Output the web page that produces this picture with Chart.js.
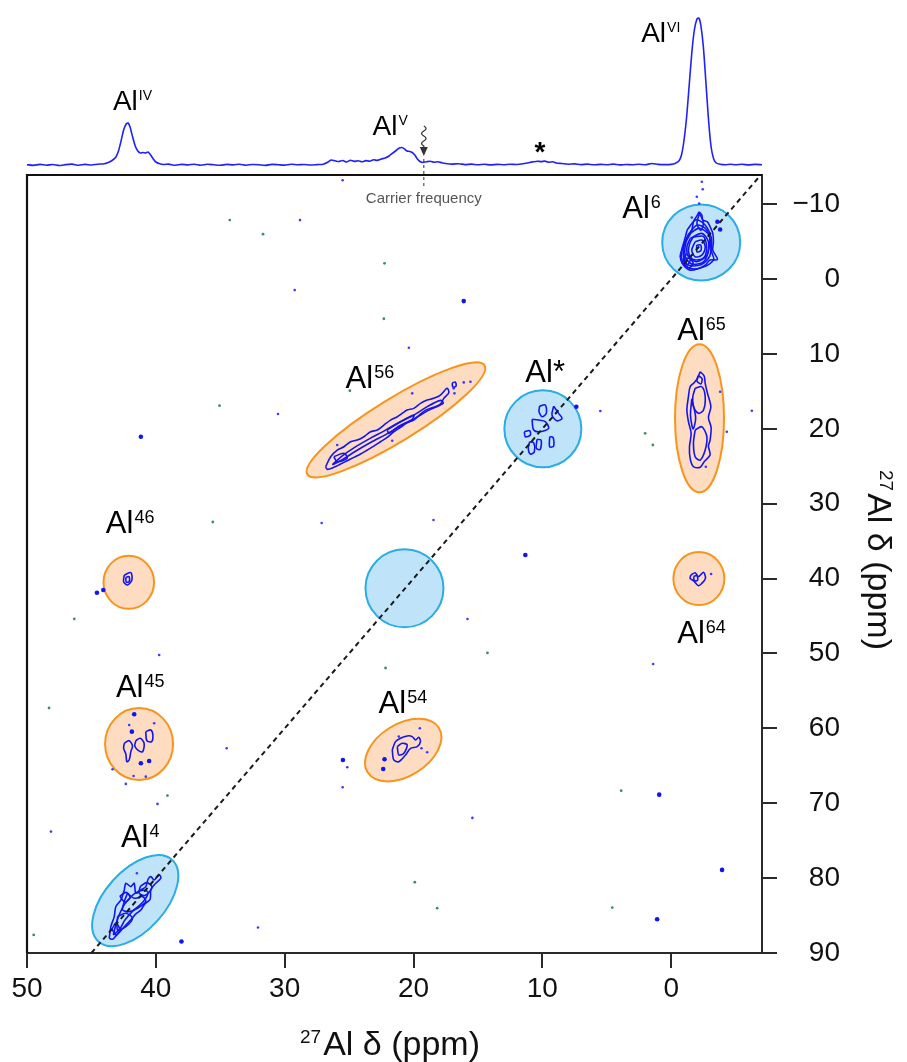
<!DOCTYPE html>
<html><head><meta charset="utf-8">
<script src="https://cdn.jsdelivr.net/npm/chart.js@4.4.1/dist/chart.umd.min.js"></script>
<style>
html,body{margin:0;padding:0;background:#fff;}
#wrap{position:relative;width:907px;height:1062px;overflow:hidden;}
#main{position:absolute;left:0;top:0;width:907px;height:1062px;}
#spec{position:absolute;left:0;top:0;width:907px;height:175px;}
</style></head><body>
<div id="wrap">
<canvas id="main" width="907" height="1062"></canvas>
<canvas id="spec" width="907" height="175"></canvas>
</div>
<script>
const FONT = "'Liberation Sans', Arial, Helvetica, sans-serif";

// ---------- axes ----------
const xTickValues = [50, 40, 30, 20, 10, 0];
const yTickValues = [-10, 0, 10, 20, 30, 40, 50, 60, 70, 80, 90];
const xRange = [-7.05, 50];
const yRange = [-13.9, 90];

// ---------- 1D projection (top) ----------
const specPpm = [50.0,49.5,49.0,48.5,48.0,47.5,47.0,46.5,46.0,45.5,45.0,44.5,44.0,43.7,43.4,43.1,42.9,42.7,42.5,42.3,42.15,42.0,41.8,41.6,41.4,41.2,41.0,40.8,40.6,40.4,40.2,40.0,39.7,39.4,39.0,38.5,38.0,37.5,37.0,36.5,36.0,35.5,35.0,34.5,34.0,33.5,33.0,32.5,32.0,31.5,31.0,30.5,30.0,29.5,29.0,28.5,28.0,27.5,27.0,26.7,26.4,26.1,25.8,25.5,25.2,24.9,24.6,24.3,24.0,23.7,23.4,23.1,22.8,22.5,22.2,21.9,21.6,21.3,21.1,20.9,20.7,20.5,20.3,20.1,19.9,19.7,19.5,19.3,19.0,18.7,18.4,18.1,17.8,17.5,17.0,16.5,16.0,15.5,15.0,14.5,14.0,13.5,13.0,12.5,12.0,11.5,11.0,10.7,10.4,10.1,9.8,9.5,9.2,8.9,8.5,8.0,7.5,7.0,6.5,6.0,5.5,5.0,4.5,4.0,3.5,3.0,2.5,2.0,1.5,1.0,0.5,0.0,-0.3,-0.6,-0.8,-1.0,-1.2,-1.4,-1.6,-1.8,-2.0,-2.15,-2.3,-2.5,-2.7,-2.9,-3.1,-3.3,-3.5,-3.8,-4.2,-4.6,-5.0,-5.5,-6.0,-6.5,-7.05];
const specIntensity = [0.3,-0.4,0.6,-0.2,0.5,-0.5,0.4,0.9,-0.3,0.6,0.0,0.8,1.2,2.5,4.5,8,14,24,35,41,42,38,28,19,14,12,12.5,12,13,10,6,3,1.2,0.5,0.9,-0.3,0.6,0.1,0.8,-0.2,0.7,0.2,-0.3,0.6,0.1,0.8,-0.2,0.5,0.2,-0.4,0.6,0.3,-0.1,0.7,0.2,0.5,0.0,0.4,0.8,2.5,5,4.2,3.5,4.5,3,4.8,3.6,4.2,3.2,4.4,3.8,5.2,4.6,6,7,9,12,15,17,17.5,16,14,13.5,12.5,10,6,3.5,2.5,3.2,3.8,2.8,3.3,2.2,1.5,0.9,1.3,0.4,0.9,0.2,0.7,0.1,0.6,0.3,0.8,0.5,1.2,2.5,3.2,3.8,3.4,3.9,2.8,3.2,2,1.5,0.8,1.1,0.4,0.9,0.2,0.6,0.3,0.9,0.1,0.5,0.2,0.8,0.3,1.5,0.6,0.4,0.6,1.5,4,10,25,48,80,112,135,146,147,140,118,82,45,18,6,2,0.8,0.3,0.8,0.2,0.7,0.1,0.6,0.3];

// ---------- diagonal (DQ = 2 x SQ) ----------
const diagonalX = [45, -6.95];
const diagonalY = [90, -13.9];

// ---------- highlighted regions ----------
const regionX = [-2.33, 9.96, 20.7, 41.6, -2.2, -2.15, 21.36, 42.1, 41.3, 20.8];
const regionY = [-4.9, 20.0, 41.3, 83.0, 18.6, 40.0, 18.8, 40.5, 62.1, 62.9];
const regionKind = ['auto','auto','auto','auto','cross','cross','cross','cross','cross','cross'];

// ---------- contours ----------
const al6Contours = [
 [[-2.17,-8.99],[-2.38,-8.55],[-2.46,-7.88],[-2.81,-7.65],[-3.02,-6.99],[-3.23,-6.1],[-3.28,-4.98],[-3.23,-3.87],[-3.59,-2.62],[-3.02,-2.54],[-2.64,-1.87],[-2.12,-1.42],[-1.47,-1.2],[-0.95,-1.87],[-0.7,-2.98],[-0.91,-4.31],[-1.22,-5.43],[-1.6,-6.54],[-1.73,-7.65],[-1.99,-8.41]],
 [[-1.25,-6.6],[-1.9,-7.9],[-2.6,-7.3],[-3.1,-5.6],[-3.15,-3.6],[-3.3,-2.6],[-2.5,-1.6],[-1.5,-1.4],[-0.85,-2.4],[-0.85,-4.0],[-1.05,-5.3]],
 [[-1.35,-6.0],[-2.0,-7.2],[-2.75,-6.6],[-3.05,-5.0],[-3.0,-3.1],[-2.3,-1.9],[-1.3,-1.9],[-0.95,-3.2],[-1.05,-4.8]],
 [[-1.55,-6.2],[-2.2,-6.8],[-2.95,-5.8],[-2.9,-3.8],[-2.5,-2.3],[-1.6,-2.0],[-1.1,-3.0],[-1.15,-4.9]],
 [[-1.47,-5.43],[-2.38,-6.1],[-2.89,-4.98],[-2.77,-3.2],[-1.99,-2.31],[-1.34,-2.98],[-1.22,-4.31]],
 [[-1.7,-5.6],[-2.5,-5.7],[-2.75,-4.2],[-2.5,-2.8],[-1.7,-2.6],[-1.35,-3.6],[-1.45,-4.8]],
 [[-1.86,-4.98],[-2.38,-5.21],[-2.64,-4.31],[-2.38,-3.2],[-1.86,-2.98],[-1.6,-3.87]],
 [[-1.99,-4.54],[-2.3,-4.54],[-2.3,-3.78],[-1.99,-3.65]],
 [[-0.8,-2.2],[-1.3,-2.8],[-1.7,-2.2],[-1.4,-1.5]],
 [[-0.9,-2.6],[-1.2,-3.3],[-1.5,-2.7],[-1.25,-1.9]],
 [[-2.2,-8.8],[-2.5,-7.5],[-2.3,-6.5],[-2.0,-7.4]]
];
const al65Contours = [
 [[-2.25,12.37],[-2.56,12.95],[-2.64,13.93],[-2.82,15.27],[-3.08,17.05],[-2.89,18.47],[-3.1,19.81],[-3.02,21.5],[-2.89,22.3],[-3.02,23.5],[-2.56,24.39],[-2.25,25.14],[-1.73,25.06],[-1.47,23.94],[-1.42,22.39],[-1.55,20.6],[-1.34,19.05],[-1.22,17.49],[-1.34,15.71],[-1.47,14.38],[-1.78,13.85],[-2.04,13.26]],
 [[-1.86,14.59],[-2.38,14.38],[-2.64,15.71],[-2.51,17.49],[-2.12,17.93],[-1.73,17.05],[-1.68,15.71]],
 [[-1.86,20.16],[-2.38,19.72],[-2.77,21.05],[-2.64,22.83],[-2.25,24.17],[-1.86,23.72],[-1.73,21.94]],
 [[-2.1,12.9],[-2.4,13.3],[-2.3,14.0],[-2.0,13.6]],
 [[-1.6,16.0],[-1.9,18.5],[-1.7,20.0],[-1.5,18.2]]
];
const al64Contours = [
 [[-1.53,39.52],[-1.86,39.21],[-2.12,39.75],[-2.51,39.16],[-2.66,39.96],[-2.38,40.63],[-2.12,40.95],[-1.73,40.28],[-1.47,39.96]],
 [[-1.75,39.7],[-2.0,39.6],[-2.05,40.2],[-1.8,40.3]]
];
const al56Contours = [
 [[26.82,25.06],[26.43,23.72],[25.92,22.83],[25.4,22.39],[24.88,21.72],[24.37,21.5],[23.85,21.05],[23.33,20.39],[22.81,20.16],[22.3,19.49],[21.78,18.83],[21.26,18.38],[20.88,17.93],[20.49,17.49],[19.98,17.27],[19.46,16.6],[18.94,16.16],[18.43,15.93],[17.91,15.49],[17.39,14.59],[17.26,15.18],[17.65,15.93],[17.91,16.69],[18.43,17.13],[18.94,17.4],[19.46,18.02],[19.98,18.83],[20.49,19.19],[21.01,19.8],[21.53,20.39],[22.04,21.14],[22.56,21.72],[23.08,22.3],[23.59,22.83],[24.11,23.36],[24.63,23.81],[25.14,24.26],[25.66,24.7],[26.18,25.14],[26.69,25.41]],
 [[26.3,24.8],[25.6,23.7],[24.6,22.5],[23.4,21.3],[22.3,20.3],[21.2,19.2],[20.0,18.2],[18.9,17.0],[17.9,16.2],[17.7,16.6],[18.8,17.5],[19.9,18.6],[21.0,19.6],[22.2,20.8],[23.3,21.8],[24.5,23.0],[25.6,24.2]],
 [[22.04,20.16],[21.01,19.05],[19.98,18.16],[20.1,18.73],[21.14,19.63],[21.91,20.6]],
 [[26.18,23.72],[25.4,23.27],[25.14,23.94],[25.92,24.39]],
 [[17.0,13.9],[16.75,13.75],[16.7,14.3],[16.95,14.4]]
];
const alStarContours = [
 [[10.21,16.96],[9.77,16.82],[9.69,17.93],[10.02,18.38],[10.26,17.71]],
 [[9.12,16.96],[8.74,17.93],[8.47,18.6],[8.86,18.92],[9.25,18.16]],
 [[10.8,18.73],[10.29,18.83],[9.77,19.05],[9.51,19.93],[10.16,20.39],[10.67,20.16]],
 [[11.4,20.39],[10.98,20.25],[10.93,20.83],[11.32,21.05]],
 [[10.98,21.72],[10.67,21.86],[10.62,23.06],[10.93,23.36],[11.09,22.6]],
 [[10.41,21.41],[10.1,21.5],[10.16,22.74],[10.47,22.6]],
 [[9.43,21.05],[9.17,21.14],[9.12,22.3],[9.43,22.39]]
];
const al46Contours = [
 [[42.45,39.52],[41.94,39.21],[41.86,40.19],[42.2,40.86],[42.5,40.41]],
 [[42.33,39.83],[42.07,39.75],[42.07,40.41],[42.3,40.45]]
];
const al45Contours = [
 [[42.45,61.99],[42.07,61.64],[41.81,62.35],[41.94,63.11],[42.07,64.22],[42.25,64.45],[42.33,63.42],[42.5,62.66]],
 [[41.55,61.64],[41.22,61.32],[40.91,61.99],[41.03,63.11],[41.42,62.88],[41.63,62.35]],
 [[40.78,60.44],[40.39,60.21],[40.23,60.88],[40.33,61.77],[40.7,61.64]]
];
const al54Contours = [
 [[21.65,62.88],[21.4,61.77],[21.01,61.32],[20.49,61.01],[20.1,61.1],[19.84,61.55],[19.59,61.19],[19.46,61.77],[19.71,62.44],[20.23,62.66],[20.62,63.55],[21.14,64.45],[21.53,64.22]],
 [[21.26,62.44],[20.88,61.99],[20.49,62.22],[20.75,63.33],[21.14,63.55]]
];
const al4Contours = [
 [[43.62,88.03],[43.49,86.47],[43.23,85.14],[43.1,83.8],[42.71,82.91],[42.45,81.58],[42.33,80.68],[41.94,81.13],[41.68,80.68],[41.55,82.02],[41.16,81.58],[40.78,81.13],[40.6,80.15],[40.39,79.8],[40.13,80.24],[39.74,79.57],[39.61,80.01],[40.13,80.91],[40.39,81.58],[40.44,82.82],[40.85,83.44],[41.16,84.25],[41.55,84.78],[41.94,85.58],[42.33,86.25],[42.71,87.01],[43.1,87.72],[43.36,88.16]],
 [[43.3,87.6],[43.0,85.6],[42.6,84.0],[42.2,83.0],[41.6,82.0],[41.0,81.6],[40.6,81.9],[41.0,83.2],[41.8,84.4],[42.4,85.6],[42.8,86.8]],
 [[42.2,82.02],[41.68,82.69],[41.03,82.47],[40.78,83.14],[41.42,84.02],[42.07,84.47],[42.58,84.25],[42.45,83.14]],
 [[42.97,85.14],[42.33,84.69],[41.81,85.36],[42.33,86.47],[42.97,86.92]],
 [[41.2,81.1],[40.7,80.6],[40.3,81.2],[40.8,82.3],[41.3,82.0]],
 [[42.8,82.4],[42.3,81.9],[42.0,82.6],[42.4,83.2]],
 [[43.4,86.8],[43.1,86.0],[42.8,86.9],[43.1,87.6]]
];

// ---------- isolated noise peaks ----------
const blueDots = [[-2.17,-10.1],[-1.99,-11.0],[-2.38,-13.0],[-2.45,-12.0],[-1.6,-8.23],[-3.8,15.05],[-4.32,20.39],[-6.26,17.58],[-2.69,25.06],[-3.1,39.39],[16.88,14.59],[16.82,15.26],[16.1,13.8],[15.58,13.71],[20.1,15.26],[21.65,21.59],[25.92,22.16],[5.5,17.62],[42.07,59.55],[40.13,59.32],[43.36,65.46],[41.73,66.36],[40.78,66.45],[42.33,67.42],[19.51,59.99],[21.14,61.1],[18.94,63.19],[19.38,62.66],[25.14,65.19],[25.5,67.87],[41.47,79.35],[32.07,86.6],[25.5,-13.2],[28.81,-7.88],[29.22,1.47],[30.52,18.02],[20.36,9.17],[27.13,32.58],[18.45,32.18],[15.81,45.39],[34.5,62.66],[48.14,73.79],[39.87,70.09],[15.43,71.96],[1.4,51.4],[39.74,50.2]];
const blueSpots = [[44.57,41.88],[44.08,41.52],[41.68,58.12],[41.86,60.44],[41.16,64.66],[40.52,64.35],[22.25,64.13],[22.35,65.42],[25.48,64.22],[11.32,36.85],[-3.59,-7.65],[-3.8,-6.63],[0.93,68.85],[-3.95,78.9],[1.09,85.49],[7.36,17.05],[41.16,21.05],[16.1,2.94],[38.01,88.47]];
const greenDots = [[34.26,-7.88],[31.68,-6.0],[35.06,16.91],[22.25,-2.1],[22.3,5.3],[24.94,14.91],[35.58,32.44],[14.26,49.93],[22.17,51.94],[46.33,45.39],[48.29,57.28],[39.1,68.98],[19.9,80.55],[18.16,84.02],[3.88,68.32],[4.57,83.94],[49.48,87.58],[2.02,20.6],[1.42,22.16]];

// ---------- annotation geometry / styles (pixels) ----------
const regionShape = [
 {rx:39, ry:38, rot:0}, {rx:38.5, ry:38.5, rot:0}, {rx:39, ry:39, rot:0}, {rx:55, ry:30, rot:-48},
 {rx:24.5, ry:74, rot:0}, {rx:25.5, ry:26.5, rot:0}, {rx:104, ry:21.5, rot:-31.6},
 {rx:25.3, ry:26.5, rot:0}, {rx:34, ry:36, rot:0}, {rx:42, ry:26, rot:-32}
];
const regionStyle = {
 auto: {fill:'#bfe4f9', stroke:'#2aace4'},
 cross: {fill:'#fddcc1', stroke:'#f7941d'}
};
const peakLabels = [
 {t:'Al', s:'6', x:3.8, y:-8.14},
 {t:'Al', s:'65', x:-0.47, y:8.14},
 {t:'Al', s:'56', x:25.27, y:14.55},
 {t:'Al*', s:'', x:11.32, y:13.75},
 {t:'Al', s:'46', x:43.88, y:33.91},
 {t:'Al', s:'45', x:43.1, y:55.81},
 {t:'Al', s:'64', x:-0.47, y:48.6},
 {t:'Al', s:'54', x:22.71, y:57.94},
 {t:'Al', s:'4', x:42.71, y:75.84}
];
const specLabels = [
 {t:'Al', s:'IV', x:43.33, y:55},
 {t:'Al', s:'V', x:23.18, y:30},
 {t:'Al', s:'VI', x:2.33, y:123}
];
const starMark = {x:10.19, y:4};
const carrierPpm = 19.2;

const BLUE = '#1414f0';
const AXIS = '#2a2a2a';
const pts = a => a.map(p => ({x:p[0], y:p[1]}));
const fmt = v => (v < 0 ? '\u2212' : '') + Math.abs(v);

function drawSup(ctx, x, y, main, sup, mSize, sSize, raise) {
  ctx.font = mSize + 'px ' + FONT;
  ctx.fillText(main, x, y);
  if (sup) {
    const w = ctx.measureText(main).width;
    ctx.font = sSize + 'px ' + FONT;
    ctx.fillText(sup, x + w + 1, y - raise);
  }
}

// ---------- plugins ----------
const regionPlugin = {
  id: 'regions',
  beforeDatasetsDraw(chart) {
    const {ctx, scales:{x, y}, chartArea} = chart;
    ctx.save();
    ctx.beginPath();
    ctx.rect(chartArea.left, chartArea.top, chartArea.right - chartArea.left, chartArea.bottom - chartArea.top);
    ctx.clip();
    regionX.forEach((cx, i) => {
      const g = regionShape[i], st = regionStyle[regionKind[i]];
      ctx.beginPath();
      ctx.ellipse(x.getPixelForValue(cx), y.getPixelForValue(regionY[i]), g.rx, g.ry, g.rot * Math.PI / 180, 0, Math.PI * 2);
      ctx.fillStyle = st.fill; ctx.fill();
      ctx.lineWidth = 2; ctx.strokeStyle = st.stroke; ctx.stroke();
    });
    ctx.restore();
  }
};

const frameLabelPlugin = {
  id: 'frameLabels',
  afterDraw(chart) {
    const {ctx, scales:{x, y}, chartArea:a} = chart;
    ctx.save();
    ctx.strokeStyle = '#111'; ctx.lineWidth = 2.2;
    ctx.beginPath();
    ctx.moveTo(a.left, a.bottom); ctx.lineTo(a.left, a.top); ctx.lineTo(a.right, a.top);
    ctx.stroke();
    ctx.fillStyle = '#000'; ctx.textAlign = 'left'; ctx.textBaseline = 'alphabetic';
    peakLabels.forEach(l => drawSup(ctx, x.getPixelForValue(l.x), y.getPixelForValue(l.y), l.t, l.s, 31, 18, 10));
    const cx = x.getPixelForValue(carrierPpm);
    ctx.strokeStyle = '#555'; ctx.lineWidth = 1.2; ctx.setLineDash([3, 3]);
    ctx.beginPath(); ctx.moveTo(cx, a.top - 16); ctx.lineTo(cx, a.top + 14); ctx.stroke();
    ctx.setLineDash([]);
    ctx.fillStyle = '#555'; ctx.textAlign = 'center';
    ctx.font = '15px ' + FONT;
    ctx.fillText('Carrier frequency', cx, a.top + 28);
    ctx.fillStyle = '#111'; ctx.textAlign = 'left';
    const tx = a.left + 273, ty = 1055;
    ctx.font = '19px ' + FONT; ctx.fillText('27', tx, ty - 12);
    const w27 = ctx.measureText('27').width;
    ctx.font = '34px ' + FONT; ctx.fillText('Al \u03b4 (ppm)', tx + w27 + 2, ty);
    ctx.translate(868, 470); ctx.rotate(Math.PI / 2);
    ctx.font = '19px ' + FONT; ctx.fillText('27', 0, -12);
    ctx.font = '34px ' + FONT; ctx.fillText('Al \u03b4 (ppm)', w27 + 2, 0);
    ctx.restore();
  }
};

const specPlugin = {
  id: 'specLabels',
  afterDraw(chart) {
    const {ctx, scales:{x, y}} = chart;
    ctx.save();
    ctx.fillStyle = '#000'; ctx.textAlign = 'left'; ctx.textBaseline = 'alphabetic';
    specLabels.forEach(l => drawSup(ctx, x.getPixelForValue(l.x), y.getPixelForValue(l.y), l.t, l.s, 28, 14, 10));
    ctx.font = 'bold 28px ' + FONT; ctx.textAlign = 'center';
    ctx.fillText('*', x.getPixelForValue(starMark.x), y.getPixelForValue(starMark.y));
    const cx = x.getPixelForValue(carrierPpm);
    ctx.strokeStyle = '#333'; ctx.lineWidth = 1.3;
    ctx.beginPath();
    let yy = 126; ctx.moveTo(cx, yy);
    for (let k = 0; k < 4; k++) {
      const s = (k % 2 === 0) ? 1 : -1;
      ctx.quadraticCurveTo(cx + 4.5 * s, yy + 2.5, cx, yy + 5);
      yy += 5;
    }
    ctx.lineTo(cx, 150);
    ctx.stroke();
    ctx.fillStyle = '#333';
    ctx.beginPath(); ctx.moveTo(cx - 4, 147); ctx.lineTo(cx + 4, 147); ctx.lineTo(cx, 156); ctx.closePath(); ctx.fill();
    ctx.restore();
  }
};

// ---------- main 2D chart ----------
const contourSets = [al6Contours, al65Contours, al64Contours, al56Contours, alStarContours, al46Contours, al45Contours, al54Contours, al4Contours].flat(1);
const datasets = [
  {data: diagonalX.map((v, i) => ({x:v, y:diagonalY[i]})), showLine:true, borderColor:'#1a1a1a', borderWidth:2, borderDash:[5,4], pointRadius:0}
];
contourSets.forEach(c => datasets.push({data: pts(c.concat([c[0]])), showLine:true, borderColor:BLUE, borderWidth:1.6, pointRadius:0, tension:0.3}));
datasets.push({data: pts(blueSpots), pointRadius:2.3, backgroundColor:BLUE, borderWidth:0});
datasets.push({data: pts(blueDots), pointRadius:1.3, backgroundColor:'#3a3aff', borderWidth:0});
datasets.push({data: pts(greenDots), pointRadius:1.4, backgroundColor:'#3d8f63', borderWidth:0});

new Chart(document.getElementById('main'), {
  type: 'scatter',
  data: {datasets},
  options: {
    responsive: false, animation: false, events: [],
    layout: {padding: {left: 27, top: 175, right: 67, bottom: 0}},
    plugins: {legend: {display: false}, tooltip: {enabled: false}},
    scales: {
      x: {
        type: 'linear', position: 'bottom', min: xRange[0], max: xRange[1], reverse: true,
        afterBuildTicks: s => { s.ticks = xTickValues.map(v => ({value: v})); },
        afterFit: s => { s.height = 109; },
        grid: {display: true, drawOnChartArea: false, drawTicks: true, tickLength: 15, color: AXIS, lineWidth: 2},
        border: {display: true, color: AXIS, width: 2},
        ticks: {font: {family: FONT, size: 28}, color: '#111', padding: 4, maxRotation: 0, autoSkip: false, callback: v => fmt(v)}
      },
      y: {
        type: 'linear', position: 'right', min: yRange[0], max: yRange[1], reverse: true,
        afterBuildTicks: s => { s.ticks = yTickValues.map(v => ({value: v})); },
        afterFit: s => { s.width = 78; },
        grid: {display: true, drawOnChartArea: false, drawTicks: true, tickLength: 15, color: AXIS, lineWidth: 2},
        border: {display: true, color: AXIS, width: 2},
        ticks: {font: {family: FONT, size: 28}, color: '#111', padding: 15, crossAlign: 'far', autoSkip: false, callback: v => fmt(v)}
      }
    }
  },
  plugins: [regionPlugin, frameLabelPlugin]
});

// ---------- top projection ----------
new Chart(document.getElementById('spec'), {
  type: 'line',
  data: {datasets: [{data: specPpm.map((p, i) => ({x: p, y: specIntensity[i]})), borderColor: '#2020ff', borderWidth: 1.6, pointRadius: 0, tension: 0.2, clip: false}]},
  options: {
    responsive: false, animation: false, events: [],
    layout: {padding: {left: 27, right: 145, top: 0, bottom: 0}},
    plugins: {legend: {display: false}, tooltip: {enabled: false}},
    scales: {
      x: {type: 'linear', min: xRange[0], max: xRange[1], reverse: true, display: false},
      y: {type: 'linear', min: -10, max: 165, display: false}
    }
  },
  plugins: [specPlugin]
});
</script>
</body></html>
